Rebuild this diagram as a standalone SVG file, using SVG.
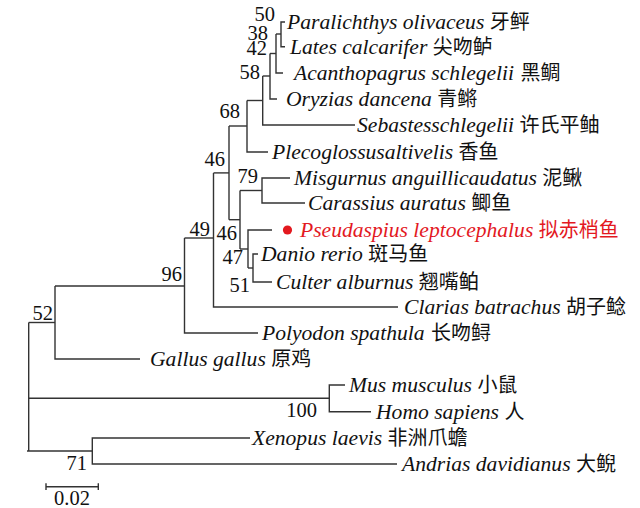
<svg xmlns="http://www.w3.org/2000/svg" width="640" height="508" viewBox="0 0 640 508">
  <style>
    .br { fill: none; stroke: #333; stroke-width: 1.4; }
    .sp { font-family: "Liberation Serif", "Times New Roman", serif; font-style: italic; font-size: 21.6px; fill: #111; }
    .cn { font-family: "Noto Sans CJK SC", sans-serif; font-style: normal; font-size: 20px; }
    .bs { font-family: "Liberation Serif", "Times New Roman", serif; font-size: 20.5px; fill: #111; }
    .red { fill: #e3191f; }
  </style>
  <rect width="640" height="508" fill="#fff"/>

  <!-- tree branches (rectangular cladogram) -->
  <g id="connectors" class="br">
    <!-- Paralichthys / Lates -->
    <path d="M285 22H281V46.7H285"/>
    <path d="M276 34H281"/>
    <!-- + Acanthopagrus -->
    <path d="M276 34V73H283"/>
    <path d="M270 53.5H276"/>
    <!-- + Oryzias -->
    <path d="M270 53.5V99H277"/>
    <path d="M262.7 76H270"/>
    <!-- + Sebastes -->
    <path d="M262.7 76V125H355"/>
    <path d="M247 100.5H262.7"/>
    <!-- + Plecoglossus -->
    <path d="M247 100.5V152H268"/>
    <path d="M229 126H247"/>
    <!-- Misgurnus / Carassius -->
    <path d="M290 178H262V203H305"/>
    <path d="M240 190.5H262"/>
    <!-- Danio / Culter -->
    <path d="M258 254H253V282H272"/>
    <path d="M248 268H253"/>
    <!-- Pseudaspius + (Danio, Culter) -->
    <path d="M272 230H248V268"/>
    <path d="M240 249H248"/>
    <!-- cyprinid clade -->
    <path d="M240 190.5V249"/>
    <path d="M229 219.7H240"/>
    <!-- teleost core -->
    <path d="M229 126V219.7"/>
    <path d="M213.5 172.9H229"/>
    <!-- + Clarias -->
    <path d="M213.5 172.9V307H398"/>
    <path d="M184.5 238H213.5"/>
    <!-- + Polyodon -->
    <path d="M184.5 238V333H258"/>
    <path d="M55 286H184.5"/>
    <!-- + Gallus -->
    <path d="M55 286V359H140"/>
    <path d="M28.7 322.5H55"/>
    <!-- Mus / Homo -->
    <path d="M345 385H329.3V411.7H371"/>
    <path d="M28.7 398.3H329.3"/>
    <!-- Xenopus / Andrias -->
    <path d="M250 438H92.3V464H397"/>
    <path d="M27 451H92.3"/>
    <!-- root -->
    <path d="M28.7 322.5V451"/>
  </g>

  <!-- leaves -->
  <g id="leaf-paralichthys"><text class="sp" x="287" y="29">Paralichthys olivaceus <tspan class="cn">牙鲆</tspan></text></g>
  <g id="leaf-lates"><text class="sp" x="290" y="53.5">Lates calcarifer <tspan class="cn">尖吻鲈</tspan></text></g>
  <g id="leaf-acanthopagrus"><text class="sp" x="294" y="80">Acanthopagrus schlegelii <tspan class="cn" dx="1">黑鲷</tspan></text></g>
  <g id="leaf-oryzias"><text class="sp" x="286" y="106">Oryzias dancena <tspan class="cn">青鳉</tspan></text></g>
  <g id="leaf-sebastes"><text class="sp" x="357" y="132">Sebastesschlegelii <tspan class="cn">许氏平鲉</tspan></text></g>
  <g id="leaf-plecoglossus"><text class="sp" x="272" y="159">Plecoglossusaltivelis <tspan class="cn">香鱼</tspan></text></g>
  <g id="leaf-misgurnus"><text class="sp" x="294" y="185">Misgurnus anguillicaudatus <tspan class="cn">泥鳅</tspan></text></g>
  <g id="leaf-carassius"><text class="sp" x="308" y="210">Carassius auratus <tspan class="cn">鲫鱼</tspan></text></g>
  <g id="leaf-pseudaspius">
    <circle class="red" cx="287.5" cy="230" r="4.6"/>
    <text class="sp red" x="300" y="237">Pseudaspius leptocephalus <tspan class="cn">拟赤梢鱼</tspan></text>
  </g>
  <g id="leaf-danio"><text class="sp" x="261" y="261">Danio rerio <tspan class="cn">斑马鱼</tspan></text></g>
  <g id="leaf-culter"><text class="sp" x="276" y="289">Culter alburnus <tspan class="cn">翘嘴鲌</tspan></text></g>
  <g id="leaf-clarias"><text class="sp" x="404" y="314">Clarias batrachus <tspan class="cn">胡子鲶</tspan></text></g>
  <g id="leaf-polyodon"><text class="sp" x="262" y="340">Polyodon spathula <tspan class="cn" dx="1">长吻鲟</tspan></text></g>
  <g id="leaf-gallus"><text class="sp" x="150" y="366">Gallus gallus <tspan class="cn">原鸡</tspan></text></g>
  <g id="leaf-mus"><text class="sp" x="349" y="392">Mus musculus <tspan class="cn">小鼠</tspan></text></g>
  <g id="leaf-homo"><text class="sp" x="376" y="418.5">Homo sapiens <tspan class="cn">人</tspan></text></g>
  <g id="leaf-xenopus"><text class="sp" x="252" y="445">Xenopus laevis <tspan class="cn">非洲爪蟾</tspan></text></g>
  <g id="leaf-andrias"><text class="sp" x="402" y="471">Andrias davidianus <tspan class="cn">大鲵</tspan></text></g>

  <!-- bootstrap support values -->
  <g id="support" class="bs" text-anchor="end">
    <text x="275" y="21">50</text>
    <text x="268" y="40">38</text>
    <text x="267" y="55">42</text>
    <text x="260" y="79">58</text>
    <text x="240" y="118">68</text>
    <text x="225" y="166">46</text>
    <text x="258" y="183">79</text>
    <text x="210" y="236">49</text>
    <text x="237" y="240">46</text>
    <text x="243" y="264">47</text>
    <text x="250" y="292">51</text>
    <text x="182" y="281">96</text>
    <text x="53" y="320">52</text>
    <text x="317" y="417">100</text>
    <text x="87" y="470">71</text>
  </g>

  <!-- scale bar -->
  <g id="scale-bar">
    <path class="br" d="M46 486.7H98.3M46 483.3V490M98.3 483.3V490"/>
    <text class="bs" x="72" y="505" text-anchor="middle">0.02</text>
  </g>
</svg>
